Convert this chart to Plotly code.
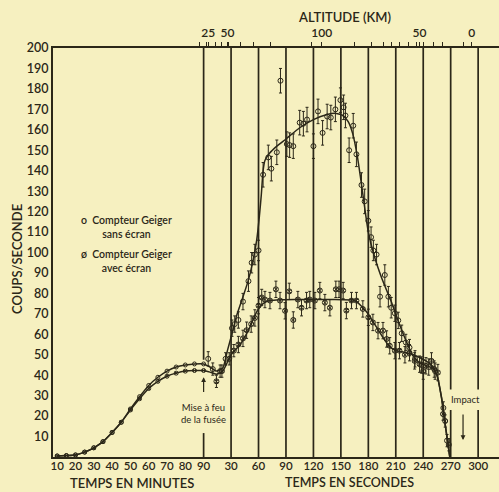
import plotly.graph_objects as go

# ---------------- data ----------------
# before launch (time in minutes)
pre_minutes = [10, 15, 20, 25, 30, 35, 40, 45, 50, 55, 60, 65, 70, 75, 80, 85, 90]
pre_sans = [0.5, 0.7, 1.0, 2.4, 4.5, 7.5, 12, 17, 23.5, 29.5, 35, 39, 42, 44, 45, 45.5, 45.5]
pre_avec = [0.5, 0.7, 1.0, 2.4, 4.5, 7.5, 12, 17, 23, 28.5, 33.5, 37, 39.5, 41, 42, 42.3, 42.3]

# after launch (time in seconds) - fitted curves
fit_sans_s = [7, 14, 21, 26, 32, 36, 42, 48.6, 54, 58, 61, 63, 65, 67, 72, 80, 90, 105, 120, 135,
              145, 152, 158, 163, 168, 172, 176, 180, 186, 195, 205, 213, 222, 228, 236, 250, 255,
              260, 264, 269]
fit_sans_v = [44, 42, 43.5, 52, 62, 69, 77, 86, 96, 106, 118, 128, 140, 145, 148.5, 152, 155.5, 161,
              165, 167.5, 168, 167, 164, 158, 147, 135, 122, 110, 99, 87, 76, 66, 56, 50, 46, 43.5,
              40, 29, 16, 0]
fit_avec_s = [7, 14, 21, 30, 40, 49, 58, 65, 72, 80, 100, 140, 165, 172, 178, 189, 196, 203, 211,
              222, 229, 243, 250, 255, 260, 264, 269]
fit_avec_v = [41.5, 40.5, 42, 50, 55, 62, 71, 75, 76.5, 76.8, 77, 77, 76.5, 74, 71, 63.5, 58.5, 54,
              52, 51, 50, 47, 44.5, 40, 29, 16, 0]

# measured points (seconds, counts/s, error)
pts_sans_s = [5, 10, 18, 24, 31, 34, 38, 43, 49, 52.5, 56, 60, 65, 70.7, 74, 80, 84, 91, 94, 98,
              105, 109, 113, 120, 125, 130, 135, 139, 144, 149.5, 153, 155, 159, 163.5, 167, 172.5,
              176, 180, 183, 185.5, 189, 192.8, 198, 201.9, 205, 209, 212.7, 216.5, 221, 225, 231,
              238, 246, 253, 262, 266]
pts_sans_v = [48, 43, 42, 48, 63, 65, 67, 76, 86, 95, 99, 101, 138, 146.5, 141, 149, 184, 153,
              152.5, 152, 163.5, 163, 165, 152, 169, 158.5, 166.5, 166, 170, 174.5, 171, 167, 150,
              162, 148, 133, 125, 115.5, 107.5, 101, 99, 78.4, 89, 78.4, 73, 70.3, 66.8, 60.5, 56,
              53.5, 48, 45, 44, 42, 24, 8]
pts_sans_err = [3.5, 3, 3, 3, 4, 4, 4, 4, 5, 5, 5, 5, 6, 6, 6, 6, 6, 6, 6, 6,
                6, 6, 6, 6, 6, 6, 6, 6, 6, 6, 6, 6, 6, 6, 6, 6,
                6, 5, 5, 5, 5, 5, 5, 5, 5, 4, 4, 4, 4,
                4, 4, 4, 4, 4, 3, 3]

pts_avec_s = [14, 20, 28, 33, 38, 43, 47, 52, 56, 60, 63.5, 67, 72.5, 79, 83.5, 89, 93.6, 98, 103,
              107, 112.5, 116, 121.6, 127, 132.5, 138, 144.5, 148, 152.5, 156, 161.6, 167, 174, 180,
              185, 190.6, 196, 200, 203.4, 209, 214, 220, 225, 230.6, 236, 240, 243, 249, 252, 256,
              261.6, 264, 268]
pts_avec_v = [37, 42, 48, 52, 55, 58, 62, 65, 68, 74, 78, 77, 76.5, 82, 76.5, 71.5, 81, 67, 77,
              73, 76.5, 77, 76.5, 81.4, 75.5, 73, 82, 82, 81.4, 71.6, 76.5, 76.5, 72.4, 68.3, 65.8,
              61.8, 61.8, 57.7, 54.4, 52, 52, 50, 51, 47, 45.4, 42, 44.6, 47, 43, 41.3, 21, 17.6, 6]
pts_avec_err = [3] * 4 + [4] * 46 + [3] * 3

# axis ticks
minute_ticks = [10, 20, 30, 40, 50, 60, 70, 80, 90]
second_ticks = [30, 60, 90, 120, 150, 180, 210, 240, 270, 300]
grid_seconds = [0, 30, 60, 90, 120, 150, 180, 210, 240, 270, 300]
count_ticks = list(range(10, 201, 10))
alt_label_time = [5, 26, 129, 236, 293]
alt_label_text = ["25", "50", "100", "50", "0"]
alt_minor_time = [-4, 3.4, 12.5, 19.8, 27, 39.8, 54.4, 72.6, 118.2, 165.4, 183.6, 196.3, 205.4,
                  214.6, 223.7, 232.8, 240.4, 251.4, 260.6, 284]

# ---------------- helpers ----------------
def minutes_to_axis(m):
    # composite time axis: 1 minute before launch = 2 axis units, 1 second after = 1 unit
    return 2.0 * (m - 90)

INK = "#2b2718"
BG = "#f6f0c0"
FONT = "Lato"

pre_x = [minutes_to_axis(m) for m in pre_minutes]
curve_sans_x = pre_x + fit_sans_s
curve_sans_y = pre_sans + fit_sans_v
curve_avec_x = pre_x + fit_avec_s
curve_avec_y = pre_avec + fit_avec_v

fig = go.Figure()

for cx, cy in [(curve_sans_x, curve_sans_y), (curve_avec_x, curve_avec_y)]:
    fig.add_trace(go.Scatter(x=cx, y=cy, mode="lines",
                             line=dict(color=INK, width=1.5, shape="spline", smoothing=0.5),
                             hoverinfo="skip", showlegend=False))

# pre-launch markers
fig.add_trace(go.Scatter(x=pre_x, y=pre_sans, mode="markers",
                         marker=dict(symbol="circle-open", size=4, color=INK, line=dict(width=1)),
                         showlegend=False, name="sans écran"))
fig.add_trace(go.Scatter(x=pre_x, y=pre_avec, mode="markers",
                         marker=dict(symbol="circle-x-open", size=4, color=INK, line=dict(width=1)),
                         showlegend=False, name="avec écran"))

# post-launch measured points
fig.add_trace(go.Scatter(x=pts_sans_s, y=pts_sans_v, mode="markers",
                         error_y=dict(type="data", array=pts_sans_err, color=INK, thickness=1, width=1.5),
                         marker=dict(symbol="circle-open", size=5, color=INK, line=dict(width=1)),
                         showlegend=False, name="Compteur Geiger sans écran"))
fig.add_trace(go.Scatter(x=pts_avec_s, y=pts_avec_v, mode="markers",
                         error_y=dict(type="data", array=pts_avec_err, color=INK, thickness=1, width=1.5),
                         marker=dict(symbol="circle-x-open", size=5, color=INK, line=dict(width=1)),
                         showlegend=False, name="Compteur Geiger avec écran"))

# invisible trace for top axis
fig.add_trace(go.Scatter(x=[alt_label_time[0]], y=[0], xaxis="x2", mode="markers",
                         marker=dict(opacity=0), showlegend=False, hoverinfo="skip"))

# vertical grid lines (with gaps for annotations)
gaps = {0: [(11.7, 47.5)], 270: [(23, 33)], 300: [(23, 33)]}
for s in grid_seconds:
    segs = []
    lo = 0
    for g0, g1 in gaps.get(s, []):
        segs.append((lo, g0))
        lo = g1
    segs.append((lo, 200))
    for y0, y1 in segs:
        fig.add_shape(type="line", x0=s, x1=s, y0=y0, y1=y1, xref="x", yref="y",
                      line=dict(color=INK, width=1.7), layer="below")

# annotations
fig.add_annotation(x=0, y=39.0, ax=0, ay=31.0, xref="x", yref="y", axref="x", ayref="y",
                   text="", showarrow=True, arrowhead=2, arrowsize=0.8, arrowwidth=1.2,
                   arrowcolor=INK)
fig.add_annotation(x=0, y=21.5, xref="x", yref="y", text="Mise à feu<br>de la fusée",
                   showarrow=False, font=dict(family=FONT, size=9.5, color=INK), align="center",
                   xanchor="center")
fig.add_annotation(x=286, y=27.9, xref="x", yref="y", text="Impact", showarrow=False,
                   xanchor="center", font=dict(family=FONT, size=9.5, color=INK))
fig.add_annotation(x=283.5, y=8.3, ax=283.5, ay=21.5, xref="x", yref="y", axref="x", ayref="y",
                   text="", showarrow=True, arrowhead=2, arrowsize=0.8, arrowwidth=1.2,
                   arrowcolor=INK)

# legend as text
leg = [("o  Compteur Geiger<br>sans écran", 227), ("ø  Compteur Geiger<br>avec écran", 261)]
for txt, py in leg:
    fig.add_annotation(x=(126 - 53) / 446, y=(457 - py) / 409, xref="paper", yref="paper",
                       text=txt, showarrow=False, xanchor="center", yanchor="middle",
                       align="center", font=dict(family=FONT, size=10.5, color=INK, weight=600))

# axis titles
title_font = dict(family=FONT, size=13, color=INK, weight=600)
fig.add_annotation(x=(132 - 53) / 446, y=(457 - 473) / 409, xref="paper", yref="paper",
                   text="TEMPS EN MINUTES", showarrow=False, xanchor="center", yanchor="top",
                   font=title_font)
fig.add_annotation(x=(349 - 53) / 446, y=(457 - 473) / 409, xref="paper", yref="paper",
                   text="TEMPS EN SECONDES", showarrow=False, xanchor="center", yanchor="top",
                   font=dict(family=FONT, size=12.5, color=INK, weight=600))
fig.add_annotation(x=(344 - 53) / 446, y=1 + (48 - 17) / 409, xref="paper", yref="paper",
                   text="ALTITUDE (KM)", showarrow=False, xanchor="center", yanchor="middle",
                   font=title_font)
fig.add_annotation(x=(17 - 53) / 446, y=(457 - 259) / 409, xref="paper", yref="paper",
                   text="COUPS/SECONDE", showarrow=False, textangle=-90,
                   xanchor="center", yanchor="middle", font=title_font)

xr = [-164.6, 322.8]
bottom_vals = [minutes_to_axis(m) for m in minute_ticks] + second_ticks
bottom_text = [str(m) for m in minute_ticks] + [str(s) for s in second_ticks]
top_vals = alt_minor_time + alt_label_time
top_text = [""] * len(alt_minor_time) + alt_label_text

fig.update_layout(
    width=499, height=492,
    margin=dict(l=53, r=0, t=48, b=35),
    paper_bgcolor=BG, plot_bgcolor=BG,
    font=dict(family=FONT, color=INK, size=11),
    xaxis=dict(range=xr, tickvals=bottom_vals, ticktext=bottom_text, showgrid=False,
               zeroline=False, showline=True, linecolor=INK, linewidth=2, ticks="",
               ticklabelstandoff=-3,
               tickfont=dict(family=FONT, size=11.5, color=INK, weight=600)),
    xaxis2=dict(range=xr, overlaying="x", side="top", tickvals=top_vals, ticktext=top_text,
                showgrid=False, zeroline=False, showline=True, linecolor=INK, linewidth=2,
                ticks="outside", ticklen=4, tickwidth=1.2, tickcolor=INK,
                tickfont=dict(family=FONT, size=12, color=INK, weight=600)),
    yaxis=dict(range=[0, 200], tickvals=count_ticks, showgrid=False, zeroline=False,
               showline=True, linecolor=INK, linewidth=2, ticks="",
               tickfont=dict(family=FONT, size=12.5, color=INK, weight=600)),
)

fig.write_html(
    "out.html",
    config={"displayModeBar": False},
    post_script="document.body.style.margin='0';document.body.style.background='" + BG + "';",
)
